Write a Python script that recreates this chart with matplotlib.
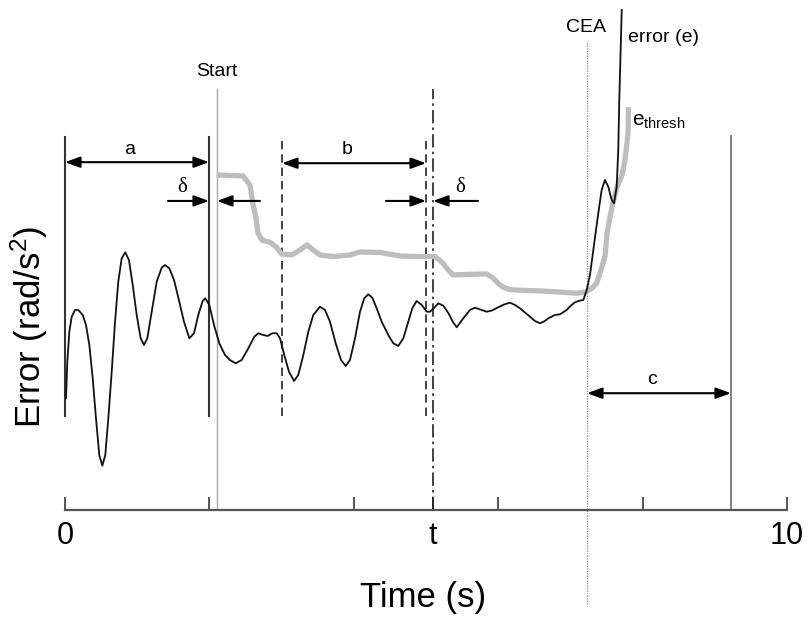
import matplotlib
matplotlib.use("Agg")
import matplotlib.pyplot as plt

plt.rcParams['font.family'] = ['Liberation Sans', 'DejaVu Sans']
plt.rcParams['mathtext.fontset'] = 'custom'
plt.rcParams['mathtext.rm'] = 'Liberation Sans'
plt.rcParams['mathtext.it'] = 'Liberation Sans'

# ---------------- data ----------------
# error signal e(t)
err_t = [0.014, 0.032, 0.060, 0.093, 0.139, 0.184, 0.245, 0.291, 0.337, 0.384,
         0.429, 0.475, 0.517, 0.558, 0.600, 0.647, 0.693, 0.738, 0.785, 0.835,
         0.886, 0.938, 0.993, 1.048, 1.094, 1.140, 1.201, 1.270, 1.339, 1.385,
         1.445, 1.510, 1.583, 1.648, 1.722, 1.787, 1.846, 1.907, 1.943, 1.999,
         2.064, 2.137, 2.216, 2.285, 2.364, 2.447, 2.539, 2.622, 2.677, 2.747,
         2.807, 2.871, 2.932, 2.978, 3.037, 3.102, 3.172, 3.231, 3.301, 3.370,
         3.439, 3.532, 3.601, 3.670, 3.749, 3.823, 3.888, 3.947, 4.017, 4.086,
         4.145, 4.201, 4.256, 4.317, 4.386, 4.478, 4.547, 4.616, 4.686, 4.755,
         4.810, 4.871, 4.941, 5.010, 5.055, 5.115, 5.170, 5.240, 5.309, 5.374,
         5.425, 5.517, 5.609, 5.679, 5.771, 5.841, 5.914, 6.001, 6.080, 6.163,
         6.233, 6.302, 6.371, 6.440, 6.510, 6.579, 6.634, 6.694, 6.787, 6.856,
         6.948, 7.008, 7.064, 7.119, 7.179, 7.226, 7.271, 7.317, 7.386, 7.433,
         7.479, 7.525, 7.571, 7.604, 7.641, 7.663, 7.677, 7.696, 7.711]
err_v = [2.190, 2.908, 3.496, 3.790, 3.922, 3.922, 3.824, 3.627, 3.235, 2.582,
         1.798, 1.078, 0.869, 1.078, 1.798, 2.712, 3.692, 4.476, 4.935, 5.053,
         4.902, 4.412, 3.824, 3.367, 3.235, 3.367, 3.888, 4.476, 4.751, 4.804,
         4.739, 4.510, 4.084, 3.692, 3.367, 3.465, 3.824, 4.098, 4.151, 4.020,
         3.627, 3.269, 3.039, 2.941, 2.876, 2.941, 3.171, 3.398, 3.465, 3.431,
         3.412, 3.465, 3.465, 3.367, 3.039, 2.712, 2.529, 2.647, 3.039, 3.496,
         3.824, 3.986, 3.922, 3.692, 3.269, 2.941, 2.824, 2.941, 3.367, 3.888,
         4.151, 4.229, 4.163, 3.955, 3.692, 3.431, 3.269, 3.216, 3.367, 3.692,
         3.955, 4.098, 4.020, 3.888, 3.888, 3.967, 4.053, 4.006, 3.863, 3.686,
         3.582, 3.759, 3.922, 3.967, 3.922, 3.888, 3.912, 3.975, 4.029, 4.065,
         4.020, 3.955, 3.873, 3.790, 3.706, 3.661, 3.696, 3.759, 3.824, 3.837,
         3.922, 4.010, 4.073, 4.102, 4.118, 4.314, 4.608, 5.098, 5.818, 6.275,
         6.471, 6.339, 6.078, 6.014, 6.339, 7.059, 8.039, 9.020, 9.804]

# threshold e_thresh(t)
thr_t = [2.101, 2.465, 2.562, 2.604, 2.645, 2.673, 2.729, 2.839, 2.922, 3.001,
         3.140, 3.255, 3.352, 3.435, 3.532, 3.712, 3.947, 4.086, 4.363, 4.640,
         4.917, 5.125, 5.235, 5.305, 5.374, 5.609, 5.841, 5.928, 5.997, 6.066,
         6.163, 6.302, 6.672, 7.087, 7.226, 7.299, 7.364, 7.424, 7.479, 7.507,
         7.576, 7.645, 7.715, 7.756, 7.798, 7.805]
thr_v = [6.57, 6.55, 6.37, 6.00, 5.73, 5.43, 5.29, 5.25, 5.16, 5.02,
         5.00, 5.10, 5.20, 5.10, 5.00, 4.97, 5.00, 5.06, 5.05, 4.98,
         4.97, 4.97, 4.84, 4.71, 4.61, 4.62, 4.63, 4.55, 4.45, 4.37,
         4.32, 4.31, 4.29, 4.25, 4.28, 4.35, 4.45, 4.71, 4.97, 5.43,
         5.94, 6.33, 6.57, 6.86, 7.39, 7.90]

# x ticks
tick_pos = [0, 2, 4, 5.097, 6, 8, 10]
tick_labels = ['0', '', '', 't', '', '', '10']

# markers (times)
t_a0, t_a1 = 0.0, 1.994
t_start = 2.105
t_b0, t_b1 = 3.006, 5.0
t_now = 5.097
t_cea = 7.23
t_c1 = 9.224

# ---------------- figure ----------------
W, H = 808, 618
fig = plt.figure(figsize=(W / 100, H / 100), dpi=100)
ax = fig.add_axes([65 / W, (H - 510) / H, 722 / W, 510 / H])
ax.set_xlim(0, 10)
ax.set_ylim(0, 10)

for s in ['left', 'top', 'right']:
    ax.spines[s].set_visible(False)
ax.spines['bottom'].set_color('#555555')
ax.spines['bottom'].set_linewidth(1.6)
ax.set_yticks([])
ax.set_xticks(tick_pos)
ax.set_xticklabels(tick_labels)
ax.tick_params(axis='x', direction='in', length=9.5, width=1.4, colors='#555555',
               labelcolor='black', labelsize=22, pad=8)

# vertical markers
ax.plot([t_a0, t_a0], [1.84, 7.31], color='#333333', lw=1.5, clip_on=False)
ax.plot([t_a1, t_a1], [1.84, 7.31], color='#333333', lw=1.5)
ax.plot([t_start, t_start], [0, 8.25], color='#aaaaaa', lw=1.0)
ax.plot([t_b0, t_b0], [1.84, 7.31], color='#222222', lw=1.2, ls=(0, (5, 3)))
ax.plot([t_b1, t_b1], [1.84, 7.31], color='#222222', lw=1.2, ls=(0, (5, 3)))
ax.plot([t_now, t_now], [0, 8.25], color='#222222', lw=1.2, ls=(0, (8, 2.5, 1.5, 2.5)))
ax.plot([t_cea, t_cea], [-1.84, 9.18], color='#888888', lw=0.9, ls=(0, (1, 1)), clip_on=False)
ax.plot([t_c1, t_c1], [0, 7.33], color='#777777', lw=1.3)

# curves
ax.plot(thr_t, thr_v, color='#bdbdbd', lw=3.8, solid_capstyle='butt', solid_joinstyle='round')
ax.plot(err_t, err_v, color='#111111', lw=1.3, solid_joinstyle='round', clip_on=False)

# arrows
dbl = dict(arrowstyle='<|-|>,head_length=0.6,head_width=0.22', color='black', lw=1.5,
           shrinkA=0, shrinkB=0, mutation_scale=15)
sgl = dict(arrowstyle='-|>,head_length=0.6,head_width=0.22', color='black', lw=1.5,
           shrinkA=0, shrinkB=0, mutation_scale=15)
ax.annotate('', xy=(t_a1, 6.82), xytext=(t_a0, 6.82), arrowprops=dbl)
ax.annotate('', xy=(t_b1, 6.80), xytext=(t_b0, 6.80), arrowprops=dbl)
ax.annotate('', xy=(t_c1, 2.29), xytext=(t_cea, 2.29), arrowprops=dbl)
ax.annotate('', xy=(t_a1, 6.06), xytext=(1.427, 6.06), arrowprops=sgl)
ax.annotate('', xy=(t_start, 6.06), xytext=(2.70, 6.06), arrowprops=sgl)
ax.annotate('', xy=(t_b1, 6.06), xytext=(4.446, 6.06), arrowprops=sgl)
ax.annotate('', xy=(t_now, 6.06), xytext=(5.72, 6.06), arrowprops=sgl)

# labels on chart
ax.text(0.90, 7.06, 'a', fontsize=14, ha='center', va='center')
ax.text(3.91, 7.06, 'b', fontsize=14, ha='center', va='center')
ax.text(8.13, 2.55, 'c', fontsize=14, ha='center', va='center')
ax.text(1.63, 6.33, 'δ', fontsize=15, ha='center', va='center', family=['Liberation Serif', 'DejaVu Serif'])
ax.text(5.48, 6.33, 'δ', fontsize=15, ha='center', va='center', family=['Liberation Serif', 'DejaVu Serif'])
ax.text(t_start, 8.59, 'Start', fontsize=14, ha='center', va='center')
ax.text(7.216, 9.47, 'CEA', fontsize=14, ha='center', va='center')
ax.text(7.80, 9.27, 'error (e)', fontsize=14, ha='left', va='center')
ax.text(7.85, 7.62, r'$\mathregular{e_{thresh}}$', fontsize=15, ha='left', va='center')

# axis titles
fig.text(423 / W, 1 - 598 / H, 'Time (s)', fontsize=25, ha='center', va='center')
fig.text(29 / W, 1 - 327 / H, r'Error (rad/s$\mathregular{^2}$)', fontsize=25,
         rotation=90, ha='center', va='center')

fig.savefig('out.png', dpi=100)
